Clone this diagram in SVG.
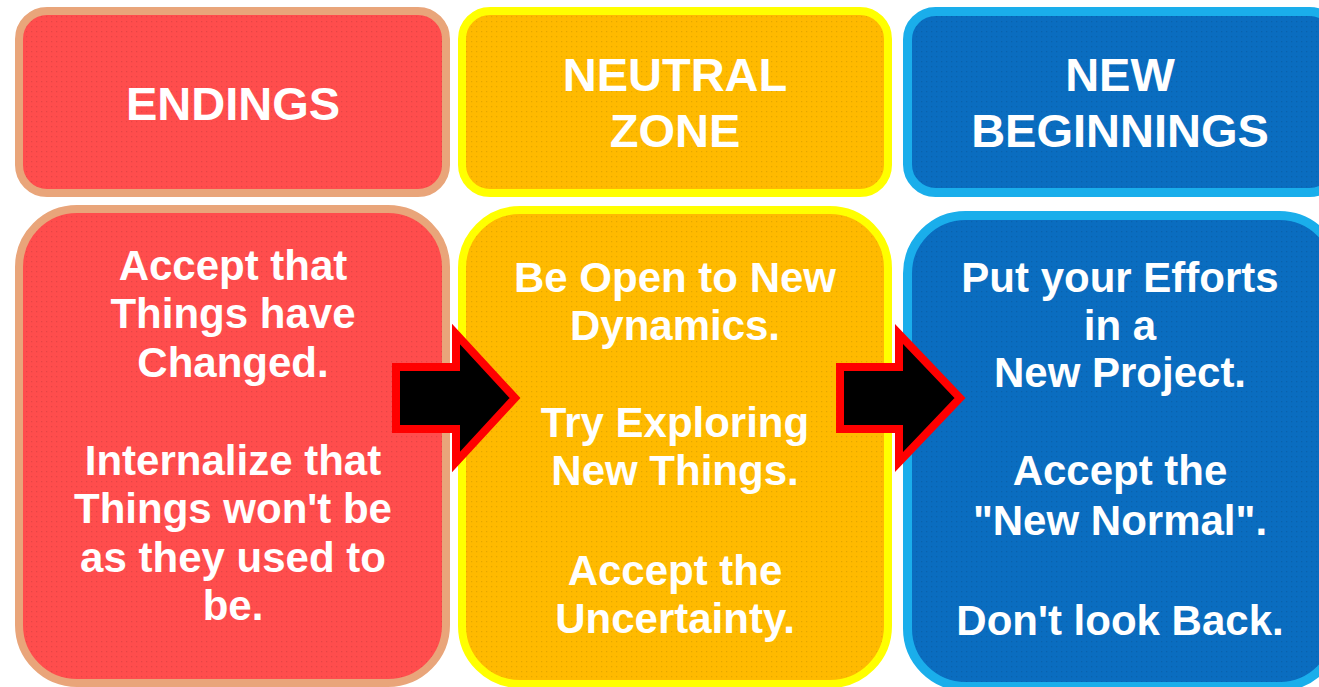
<svg xmlns="http://www.w3.org/2000/svg" width="1319" height="687" viewBox="0 0 1319 687">
<defs>
<pattern id="dots" width="5" height="5" patternUnits="userSpaceOnUse">
<rect x="1" y="1" width="1.2" height="1.2" fill="#000" fill-opacity="0.10"/>
</pattern>
<style>
.red{fill:#FF4D4D;stroke:#E9A57A;stroke-width:8}
.yel{fill:#FFBA00;stroke:#FFFF00;stroke-width:8}
.blu{fill:#0A6DC0;stroke:#1AAEEB;stroke-width:9}
.tex{fill:url(#dots);stroke:none}
.hd{font-family:"Liberation Sans",Arial,sans-serif;font-weight:bold;font-size:47px;fill:#fff;text-anchor:middle}
.bd{font-family:"Liberation Sans",Arial,sans-serif;font-weight:bold;font-size:42px;fill:#fff;text-anchor:middle}
.arr{fill:#000;stroke:#FF0000;stroke-width:8;stroke-linejoin:miter}
</style>
</defs>
<rect width="1319" height="687" fill="#fff"/>
<g id="endings-header">
<rect class="red" x="19" y="11" width="427" height="182" rx="28"/>
<rect class="tex" x="23" y="15" width="419" height="174" rx="24"/>
<text class="hd" x="233" y="120">ENDINGS</text>
</g>
<g id="neutral-header">
<rect class="yel" x="462" y="11" width="426" height="182" rx="28"/>
<rect class="tex" x="466" y="15" width="418" height="174" rx="24"/>
<text class="hd" x="675" y="91">NEUTRAL</text>
<text class="hd" x="675" y="147">ZONE</text>
</g>
<g id="beginnings-header">
<rect class="blu" x="907.5" y="11.5" width="430" height="181" rx="28"/>
<rect class="tex" x="912" y="16" width="421" height="172" rx="24"/>
<text class="hd" x="1120" y="91">NEW</text>
<text class="hd" x="1120" y="147">BEGINNINGS</text>
</g>
<g id="endings-body">
<rect class="red" x="19" y="209" width="427" height="474" rx="58"/>
<rect class="tex" x="23" y="213" width="419" height="466" rx="54"/>
<text class="bd" x="233" y="280">Accept that</text>
<text class="bd" x="233" y="328">Things have</text>
<text class="bd" x="233" y="377">Changed.</text>
<text class="bd" x="233" y="475">Internalize that</text>
<text class="bd" x="233" y="523">Things won't be</text>
<text class="bd" x="233" y="572">as they used to</text>
<text class="bd" x="233" y="620">be.</text>
</g>
<g id="neutral-body">
<rect class="yel" x="462" y="210" width="426" height="474" rx="58"/>
<rect class="tex" x="466" y="214" width="418" height="466" rx="54"/>
<text class="bd" x="675" y="292">Be Open to New</text>
<text class="bd" x="675" y="340">Dynamics.</text>
<text class="bd" x="675" y="437">Try Exploring</text>
<text class="bd" x="675" y="485">New Things.</text>
<text class="bd" x="675" y="585">Accept the</text>
<text class="bd" x="675" y="633">Uncertainty.</text>
</g>
<g id="beginnings-body">
<rect class="blu" x="907.5" y="215.5" width="430" height="471" rx="58"/>
<rect class="tex" x="912" y="220" width="421" height="462" rx="54"/>
<text class="bd" x="1120" y="292">Put your Efforts</text>
<text class="bd" x="1120" y="340">in a</text>
<text class="bd" x="1120" y="387">New Project.</text>
<text class="bd" x="1120" y="485">Accept the</text>
<text class="bd" x="1120" y="535">"New Normal".</text>
<text class="bd" x="1120" y="635">Don't look Back.</text>
</g>
<g id="connectors">
<polygon class="arr" points="396,367 456,367 456,334 515,398 456,462 456,429 396,429"/>
<polygon class="arr" points="840,367 899,367 899,334 960,398 899,462 899,429 840,429"/>
</g>
</svg>
